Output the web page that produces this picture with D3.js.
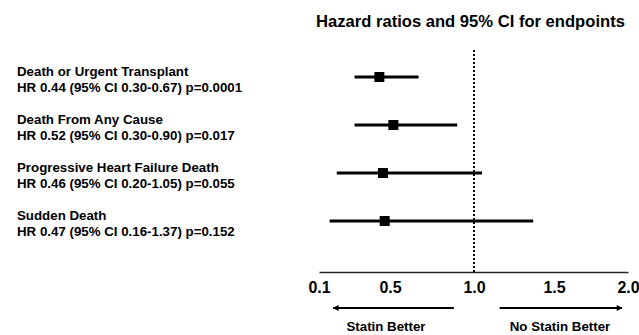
<!DOCTYPE html>
<html>
<head>
<meta charset="utf-8">
<script src="https://cdn.jsdelivr.net/npm/d3@7"></script>
<style>
  body { margin: 0; background: #fff; }
  svg { display: block; font-family: "Liberation Sans", Arial, sans-serif; font-weight: bold; }
</style>
</head>
<body>
<svg id="chart" width="639" height="335"></svg>
<script>
// endpoints and their hazard ratios
const endpoints = ["Death or Urgent Transplant", "Death From Any Cause", "Progressive Heart Failure Death", "Sudden Death"];
const hr = [0.44, 0.52, 0.46, 0.47];
const ciLow = [0.30, 0.30, 0.20, 0.16];
const ciHigh = [0.67, 0.90, 1.05, 1.37];
const pValues = ["0.0001", "0.017", "0.055", "0.152"];
const tickValues = [0.1, 0.5, 1.0, 1.5, 2.0];

const svg = d3.select("#chart");
const axisY = 272;

// the printed axis is not evenly spaced, so a piecewise linear scale
const x = d3.scaleLinear()
  .domain(tickValues)
  .range([319, 390, 474, 554, 628]);

const y = d3.scalePoint()
  .domain(endpoints)
  .range([77, 221]);

// title
svg.append("text")
  .attr("x", 316)
  .attr("y", 27)
  .style("font-size", "16.6px")
  .text("Hazard ratios and 95% CI for endpoints");

// labels on the left
const labels = svg.append("g");
endpoints.forEach((name, i) => {
  labels.append("text")
    .attr("x", 17)
    .attr("y", y(name) - 1)
    .style("font-size", "13.3px")
    .text(name);
  labels.append("text")
    .attr("x", 17)
    .attr("y", y(name) + 15)
    .style("font-size", "13.3px")
    .text("HR " + hr[i].toFixed(2) + " (95% CI " + ciLow[i].toFixed(2) + "-" + ciHigh[i].toFixed(2) + ") p=" + pValues[i]);
});

// reference line at 1.0
svg.append("line")
  .attr("x1", x(1))
  .attr("x2", x(1))
  .attr("y1", 50)
  .attr("y2", axisY)
  .attr("stroke", "#000")
  .attr("stroke-width", 2)
  .attr("stroke-dasharray", "2,2");

// confidence intervals
svg.selectAll(".ci")
  .data(endpoints)
  .enter()
  .append("line")
  .attr("class", "ci")
  .attr("x1", (d, i) => x(ciLow[i]))
  .attr("x2", (d, i) => x(ciHigh[i]))
  .attr("y1", d => y(d))
  .attr("y2", d => y(d))
  .attr("stroke", "#000")
  .attr("stroke-width", 3);

// hazard ratio squares
const sq = 10;
svg.selectAll(".hr")
  .data(endpoints)
  .enter()
  .append("rect")
  .attr("class", "hr")
  .attr("x", (d, i) => x(hr[i]) - sq / 2)
  .attr("y", d => y(d) - sq / 2)
  .attr("width", sq)
  .attr("height", sq)
  .attr("fill", "#000");

// x axis
const axis = svg.append("g")
  .attr("transform", "translate(0," + axisY + ")")
  .call(d3.axisBottom(x).tickValues(tickValues).tickSize(0).tickPadding(10).tickFormat(d3.format(".1f")));
axis.select(".domain").attr("stroke", "#222").attr("stroke-width", 1.5);
axis.selectAll("text")
  .attr("fill", "#000")
  .style("font-size", "16px")
  .style("font-family", "'Liberation Sans', Arial, sans-serif")
  .style("font-weight", "bold");

// arrows
const defs = svg.append("defs");
defs.append("marker")
  .attr("id", "head")
  .attr("viewBox", "0 0 10 10")
  .attr("refX", 9)
  .attr("refY", 5)
  .attr("markerWidth", 4)
  .attr("markerHeight", 3)
  .attr("orient", "auto")
  .attr("markerUnits", "strokeWidth")
  .append("path")
  .attr("d", "M0,0L10,5L0,10Z")
  .attr("fill", "#000");

const arrowY = 308;
svg.append("line")
  .attr("x1", x(0.88)).attr("x2", x(0.18))
  .attr("y1", arrowY).attr("y2", arrowY)
  .attr("stroke", "#000").attr("stroke-width", 2)
  .attr("marker-end", "url(#head)");
svg.append("line")
  .attr("x1", x(1.16)).attr("x2", x(1.96))
  .attr("y1", arrowY).attr("y2", arrowY)
  .attr("stroke", "#000").attr("stroke-width", 2)
  .attr("marker-end", "url(#head)");

svg.append("text")
  .attr("x", 386).attr("y", 331)
  .attr("text-anchor", "middle")
  .style("font-size", "13.3px")
  .text("Statin Better");
svg.append("text")
  .attr("x", 560).attr("y", 331)
  .attr("text-anchor", "middle")
  .style("font-size", "13.3px")
  .text("No Statin Better");
</script>
</body>
</html>
